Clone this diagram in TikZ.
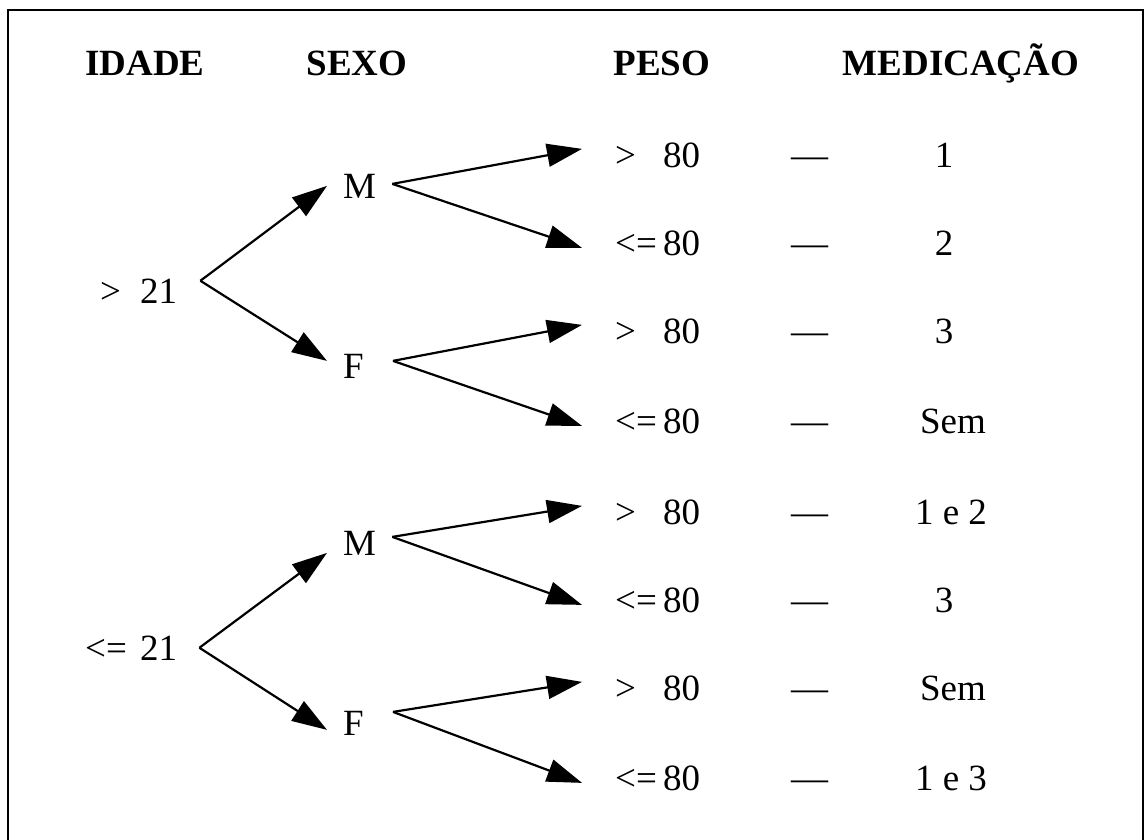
\documentclass[tikz,border=0pt]{standalone}
\usepackage{fontspec}
\setmainfont{Liberation Serif}
\usetikzlibrary{arrows.meta,calc}
\tikzset{
  lbl/.style={inner sep=0pt, anchor=base west, font=\fontsize{37}{44}\selectfont},
  hdr/.style={inner sep=0pt, anchor=base, font=\fontsize{37}{44}\selectfont\bfseries},
  med/.style={inner sep=0pt, anchor=base, font=\fontsize{37}{44}\selectfont},
  arr/.style={line width=2.2pt, -{Triangle[length=35pt,width=23pt]}},
  frame/.style={line width=2pt},
}
\newcommand{\gtp}{\makebox[48pt][l]{>}80}
\newcommand{\lep}{\makebox[48pt][l]{<=}80}
\begin{document}
\begin{tikzpicture}[x=1pt,y=-1pt]
\useasboundingbox (0,0) rectangle (1144,839);
\draw[frame] (8,860) -- (8,10) -- (1143,10) -- (1143,860);

% headers
\node[hdr] (hI) at (145,75) {IDADE};
\node[hdr] (hS) at (357,75) {SEXO};
\node[hdr] (hP) at (662,75) {PESO};
\node[hdr] (hM) at (961,75) {MEDICAÇÃO};

% age labels
\node[lbl] (A1) at (85,303) {\makebox[55pt][l]{\hspace{15pt}>}21};
\node[lbl] (A2) at (85,660) {\makebox[55pt][l]{<=}21};

% sex labels
\node[lbl] (M1) at (343,198) {M};
\node[lbl] (F1) at (343,378) {F};
\node[lbl] (M2) at (343,555) {M};
\node[lbl] (F2) at (343,735) {F};

% weight rows
\node[lbl] (P1) at (615,167) {\gtp};
\node[lbl] (P2) at (615,255) {\lep};
\node[lbl] (P3) at (615,343) {\gtp};
\node[lbl] (P4) at (615,433) {\lep};
\node[lbl] (P5) at (615,524) {\gtp};
\node[lbl] (P6) at (615,612) {\lep};
\node[lbl] (P7) at (615,700) {\gtp};
\node[lbl] (P8) at (615,790) {\lep};

% dashes
\foreach \i/\y in {1/167,2/255,3/343,4/433,5/524,6/612,7/700,8/790}
  \node[lbl] (D\i) at (791,\y) {—};

% medication
\node[med] (R1) at (944,167) {1};
\node[med] (R2) at (944,255) {2};
\node[med] (R3) at (944,343) {3};
\node[med] (R4) at (953,433) {Sem};
\node[med] (R5) at (951,524) {1 e 2};
\node[med] (R6) at (944,612) {3};
\node[med] (R7) at (953,700) {Sem};
\node[med] (R8) at (951,790) {1 e 3};

% junction points
\coordinate (o1) at ($(A1.east)+(23,-10)$);
\coordinate (o2) at ($(A2.east)+(22,0)$);
\coordinate (sM1) at ($(M1.east)+(16,-2)$);
\coordinate (sF1) at ($(F1.east)+(29,-5)$);
\coordinate (sM2) at ($(M2.east)+(16,-6)$);
\coordinate (sF2) at ($(F2.east)+(29,-11)$);

% age -> sex
\draw[arr] (o1) -- ($(M1.west)+(-16,0)$);
\draw[arr] (o1) -- ($(F1.west)+(-16,-5)$);
\draw[arr] (o2) -- ($(M2.west)+(-16,10)$);
\draw[arr] (o2) -- ($(F2.west)+(-16,7)$);

% sex -> weight
\draw[arr] (sM1) -- ($(P1.west)+(-33,-6)$);
\draw[arr] (sM1) -- ($(P2.west)+(-33,5)$);
\draw[arr] (sF1) -- ($(P3.west)+(-33,-6)$);
\draw[arr] (sF1) -- ($(P4.west)+(-33,5)$);
\draw[arr] (sM2) -- ($(P5.west)+(-33,-6)$);
\draw[arr] (sM2) -- ($(P6.west)+(-33,5)$);
\draw[arr] (sF2) -- ($(P7.west)+(-33,-6)$);
\draw[arr] (sF2) -- ($(P8.west)+(-33,5)$);
\end{tikzpicture}
\end{document}
